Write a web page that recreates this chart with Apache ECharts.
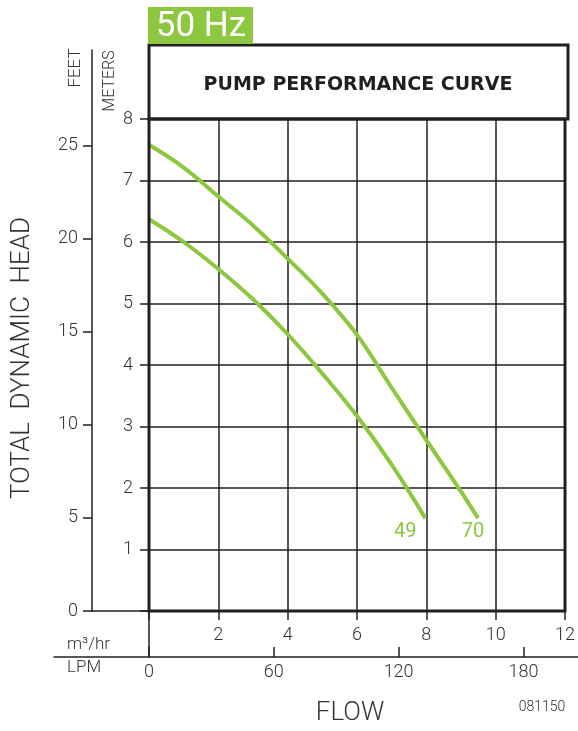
<!DOCTYPE html>
<html>
<head>
<meta charset="utf-8">
<script src="https://cdn.jsdelivr.net/npm/echarts@6/dist/echarts.min.js"></script>
<style>html,body{margin:0;padding:0;background:#fff;}#c{width:578px;height:731px;}</style>
</head>
<body>
<div id="c"></div>
<script>
// Flow in m3/hr, head in meters
const curve70 = [[0,7.58],[1,7.21],[2,6.74],[3,6.27],[4,5.73],[5,5.16],[6,4.49],[7,3.63],[8,2.78],[9,1.94],[9.49,1.51]];
const curve49 = [[0,6.37],[1,6.0],[2,5.56],[3,5.07],[4,4.5],[5,3.86],[6,3.17],[7,2.38],[7.97,1.51]];
const seriesNames = ['49','70'];
const feetTicks = [0,5,10,15,20,25];
const lpmTicks = [0,60,120,180];
const metersMax = 8, flowMax = 12, lpmMax = 200, feetAxisMax = 30.16;

const GREEN = '#8dc63f', DARK = '#231f20', TXT = '#333';
const FONT = 'Roboto';
const chart = echarts.init(document.getElementById('c'));
const axisText = {color: TXT, fontSize: 18, fontFamily: FONT, fontWeight: 300};

chart.setOption({
  animation: false,
  grid: [
    {left: 149, right: 10, top: 119, bottom: 120, show: true, borderColor: DARK, borderWidth: 3, z: 5},
    {left: 92, width: 57, top: 50, bottom: 120},
    {left: 54, right: 0, bottom: 74, height: 10},
    {left: 149, width: 10, top: 611, bottom: 74}
  ],
  xAxis: [
    {gridIndex: 0, type: 'value', min: 0, max: flowMax, interval: 2,
     axisLine: {show: false},
     axisTick: {show: true, length: 9, lineStyle: {color: DARK, width: 1.5}},
     splitLine: {show: true, lineStyle: {color: DARK, width: 1.5}},
     axisLabel: Object.assign({margin: 15, formatter: v => v === 0 ? '' : String(v)}, axisText)},
    {gridIndex: 0, type: 'value', position: 'bottom', offset: 46, min: 0, max: lpmMax,
     axisLine: {show: false},
     axisTick: {show: true, inside: true, length: 10, customValues: lpmTicks, lineStyle: {color: DARK, width: 1.5}},
     splitLine: {show: false},
     axisLabel: Object.assign({margin: 6, customValues: lpmTicks}, axisText)},
    {gridIndex: 1, type: 'value', min: 0, max: 1,
     axisLine: {show: true, lineStyle: {color: DARK, width: 1.5}},
     axisTick: {show: false}, axisLabel: {show: false}, splitLine: {show: false}},
    {gridIndex: 2, type: 'value', min: 0, max: 1,
     axisLine: {show: true, lineStyle: {color: DARK, width: 1.5}},
     axisTick: {show: false}, axisLabel: {show: false}, splitLine: {show: false}},
    {gridIndex: 3, type: 'value', min: 0, max: 1, show: false}
  ],
  yAxis: [
    {gridIndex: 0, type: 'value', min: 0, max: metersMax, interval: 1,
     axisLine: {show: false},
     axisTick: {show: true, length: 9, lineStyle: {color: DARK, width: 1.5}},
     splitLine: {show: true, lineStyle: {color: DARK, width: 1.5}},
     axisLabel: Object.assign({margin: 16, formatter: v => v === 0 ? '' : String(v)}, axisText)},
    {gridIndex: 1, type: 'value', min: 0, max: feetAxisMax,
     axisLine: {show: true, lineStyle: {color: DARK, width: 1.5}},
     axisTick: {show: true, length: 9, customValues: feetTicks, lineStyle: {color: DARK, width: 1.5}},
     splitLine: {show: false},
     axisLabel: Object.assign({margin: 14, customValues: feetTicks}, axisText)},
    {gridIndex: 2, type: 'value', min: 0, max: 1, show: false},
    {gridIndex: 3, type: 'value', min: 0, max: 1,
     axisLine: {show: true, lineStyle: {color: DARK, width: 1.5}},
     axisTick: {show: false}, axisLabel: {show: false}, splitLine: {show: false}}
  ],
  series: [
    {name: seriesNames[0], type: 'line', xAxisIndex: 0, yAxisIndex: 0, data: curve49, smooth: 0.4, symbol: 'none',
     lineStyle: {color: GREEN, width: 4}, z: 3,
     endLabel: {show: true, formatter: '{a}', color: GREEN, fontSize: 20, fontFamily: FONT, distance: 0, align: 'center', verticalAlign: 'middle', offset: [-20, 14]}},
    {name: seriesNames[1], type: 'line', xAxisIndex: 0, yAxisIndex: 0, data: curve70, smooth: 0.4, symbol: 'none',
     lineStyle: {color: GREEN, width: 4}, z: 3,
     endLabel: {show: true, formatter: '{a}', color: GREEN, fontSize: 20, fontFamily: FONT, distance: 0, align: 'center', verticalAlign: 'middle', offset: [-5, 14]}}
  ],
  graphic: [
    {type: 'rect', shape: {x: 149, y: 45, width: 419, height: 74}, style: {fill: 'none', stroke: DARK, lineWidth: 3}, z: 10},
    {type: 'rect', shape: {x: 148, y: 7, width: 105, height: 37}, style: {fill: GREEN}, z: 10},
    {type: 'text', x: 201, y: 27, style: {text: '50 Hz', fill: '#fff', fontSize: 35, fontFamily: FONT, align: 'center', verticalAlign: 'middle'}, z: 11},
    {type: 'text', x: 358, y: 85, style: {text: 'PUMP PERFORMANCE CURVE', fill: DARK, fontSize: 19, fontWeight: 'bold', fontFamily: 'DejaVu Sans', align: 'center', verticalAlign: 'middle'}, z: 11},
    {type: 'text', x: 76, y: 68, rotation: Math.PI / 2, style: {text: 'FEET', fill: TXT, fontSize: 17, fontWeight: 300, fontFamily: FONT, align: 'center', verticalAlign: 'middle'}},
    {type: 'text', x: 110, y: 81, rotation: Math.PI / 2, style: {text: 'METERS', fill: TXT, fontSize: 16, fontWeight: 300, fontFamily: FONT, align: 'center', verticalAlign: 'middle'}},
    {type: 'text', x: 22, y: 358, rotation: Math.PI / 2, style: {text: 'TOTAL  DYNAMIC  HEAD', fill: TXT, fontSize: 26, fontWeight: 300, fontFamily: FONT, align: 'center', verticalAlign: 'middle'}},
    {type: 'text', x: 67, y: 645, style: {text: 'm³/hr', fill: TXT, fontSize: 17, fontWeight: 300, fontFamily: FONT, align: 'left', verticalAlign: 'middle'}},
    {type: 'text', x: 67, y: 668, style: {text: 'LPM', fill: TXT, fontSize: 17, fontWeight: 300, fontFamily: FONT, align: 'left', verticalAlign: 'middle'}},
    {type: 'text', x: 350, y: 713, style: {text: 'FLOW', fill: TXT, fontSize: 26, fontWeight: 300, fontFamily: FONT, align: 'center', verticalAlign: 'middle'}},
    {type: 'text', x: 542, y: 707, style: {text: '081150', fill: TXT, fontSize: 14, fontWeight: 300, fontFamily: FONT, align: 'center', verticalAlign: 'middle'}}
  ]
});
</script>
</body>
</html>
